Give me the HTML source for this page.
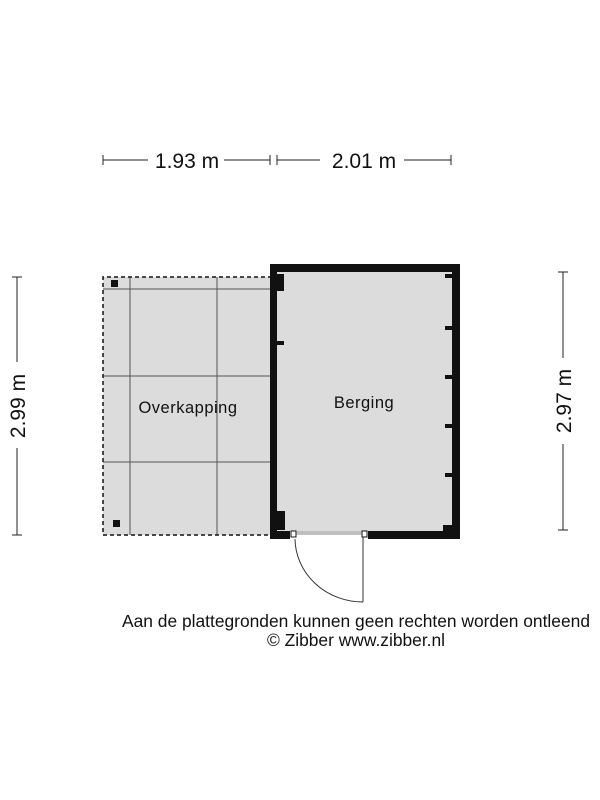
<!DOCTYPE html>
<html><head><meta charset="utf-8"><style>
body{margin:0;background:#fff}
svg{display:block}
text{font-family:"Liberation Sans",sans-serif;fill:#111}
</style></head><body>
<svg width="600" height="800" viewBox="0 0 600 800">
<rect width="600" height="800" fill="#fff"/>
<g stroke="#222" stroke-width="1">
<line x1="103" y1="160" x2="148" y2="160"/><line x1="224" y1="160" x2="270" y2="160"/>
<line x1="103" y1="155" x2="103" y2="165"/><line x1="270" y1="155" x2="270" y2="165"/>
<line x1="277" y1="160" x2="320" y2="160"/><line x1="404" y1="160" x2="451" y2="160"/>
<line x1="277" y1="155" x2="277" y2="165"/><line x1="451" y1="155" x2="451" y2="165"/>
<line x1="17" y1="277" x2="17" y2="362"/><line x1="17" y1="448" x2="17" y2="535"/>
<line x1="12" y1="277" x2="22" y2="277"/><line x1="12" y1="535" x2="22" y2="535"/>
<line x1="563" y1="272" x2="563" y2="358"/><line x1="563" y1="444" x2="563" y2="530"/>
<line x1="558" y1="272" x2="568" y2="272"/><line x1="558" y1="530" x2="568" y2="530"/>
</g>
<text x="187" y="168" font-size="21" text-anchor="middle">1.93 m</text>
<text x="364" y="168" font-size="21" text-anchor="middle">2.01 m</text>
<text transform="translate(25,406) rotate(-90)" font-size="21" text-anchor="middle">2.99 m</text>
<text transform="translate(571,401) rotate(-90)" font-size="21" text-anchor="middle">2.97 m</text>
<rect x="103" y="277" width="170" height="258" fill="#dcdcdc"/>
<g stroke="#555" stroke-width="1">
<line x1="130" y1="277" x2="130" y2="535"/><line x1="217" y1="277" x2="217" y2="535"/>
<line x1="103" y1="289" x2="272" y2="289"/><line x1="103" y1="376" x2="272" y2="376"/><line x1="103" y1="462" x2="272" y2="462"/>
</g>
<path d="M272 277 H103 V535 H272" fill="none" stroke="#111" stroke-width="1.5" stroke-dasharray="4,3"/>
<rect x="111" y="280" width="7" height="7" fill="#111"/>
<rect x="113" y="520" width="7" height="7" fill="#111"/>
<text x="188" y="413" font-size="16.5" text-anchor="middle" letter-spacing="0.5">Overkapping</text>
<rect x="270" y="264" width="190" height="275" fill="#111"/>
<rect x="277" y="272" width="175" height="259" fill="#dcdcdc"/>
<rect x="277" y="274" width="7" height="17" fill="#111"/>
<rect x="277" y="511" width="8" height="19" fill="#111"/>
<rect x="277" y="341" width="7" height="4" fill="#111"/>
<g fill="#111"><rect x="445" y="274" width="7" height="4"/><rect x="445" y="326" width="7" height="4"/><rect x="445" y="375" width="7" height="4"/><rect x="445" y="424" width="7" height="4"/><rect x="445" y="473" width="7" height="4"/><rect x="443" y="525" width="9" height="6"/></g>
<rect x="290" y="531" width="78" height="8" fill="#fff"/>
<rect x="291" y="531" width="5" height="6" fill="#fff" stroke="#111" stroke-width="1"/>
<rect x="362" y="531" width="5" height="6" fill="#fff" stroke="#111" stroke-width="1"/>
<line x1="296" y1="532" x2="362" y2="532" stroke="#555" stroke-width="0.7"/>
<line x1="296" y1="534" x2="362" y2="534" stroke="#555" stroke-width="0.7"/>
<line x1="363" y1="537" x2="363" y2="602" stroke="#333" stroke-width="1"/>
<path d="M295 539 A68 64 0 0 0 363 602" fill="none" stroke="#333" stroke-width="1"/>
<text x="364" y="408" font-size="16.5" text-anchor="middle" letter-spacing="0.5">Berging</text>
<text x="356" y="627" font-size="17.4" text-anchor="middle">Aan de plattegronden kunnen geen rechten worden ontleend</text>
<text x="356" y="646" font-size="17.4" text-anchor="middle">© Zibber www.zibber.nl</text>
</svg>
</body></html>
